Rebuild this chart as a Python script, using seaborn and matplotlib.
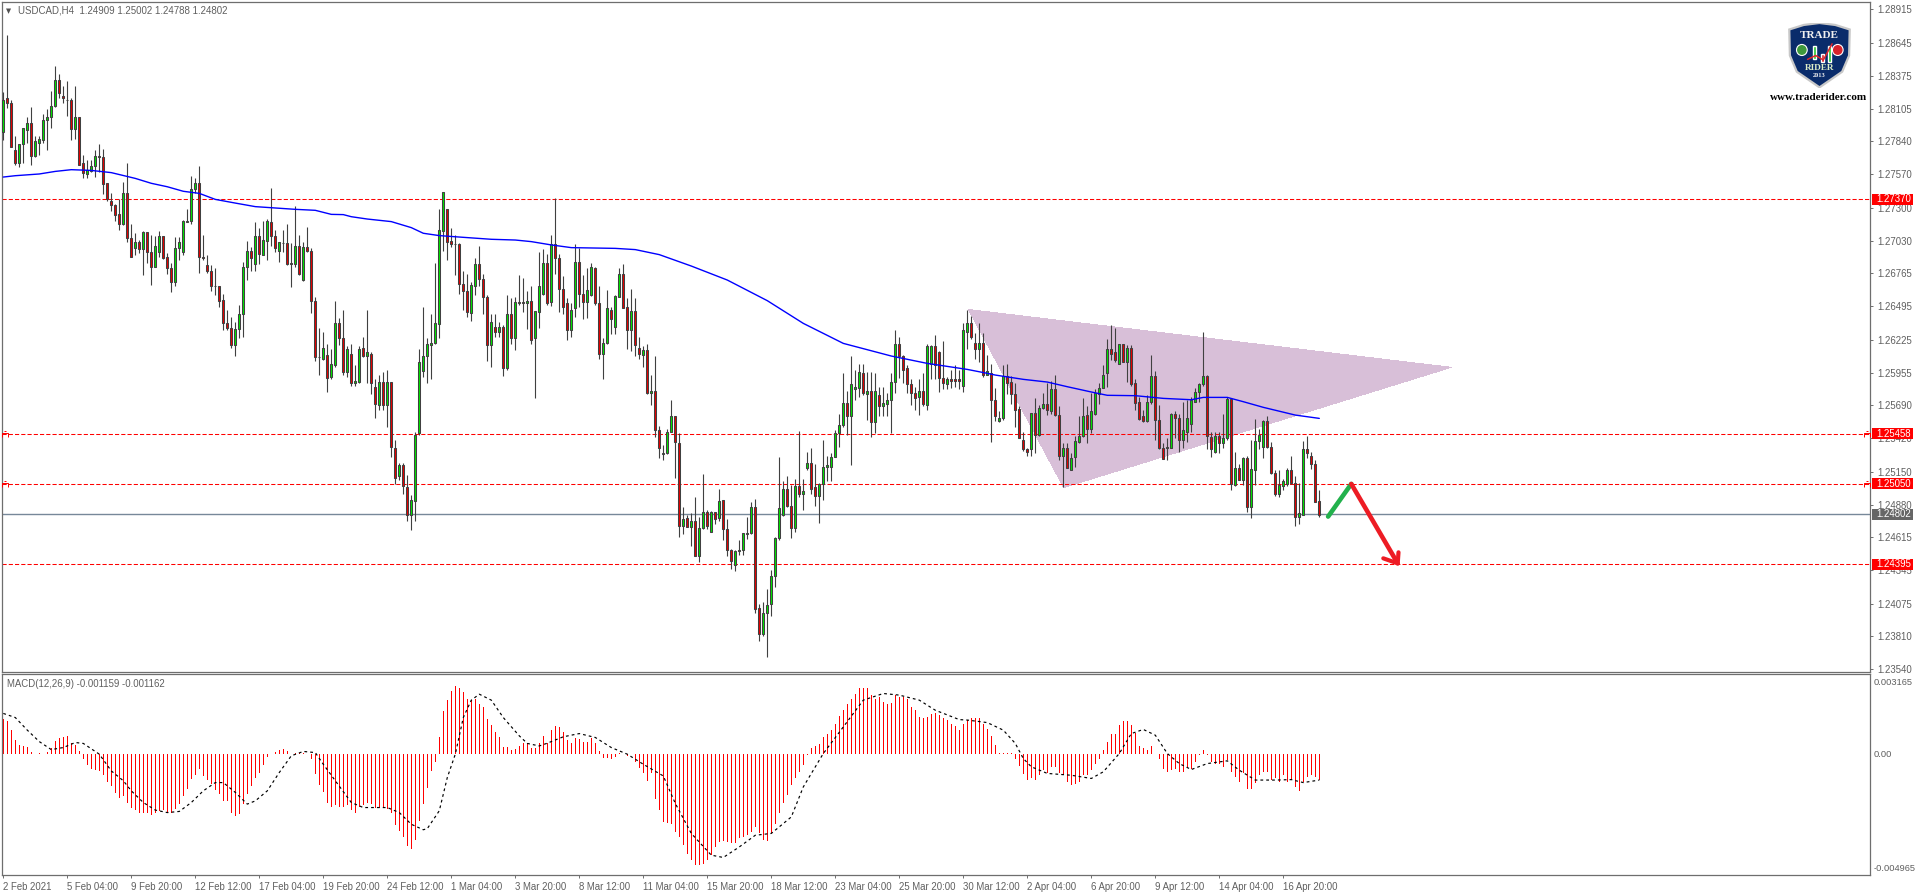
import numpy as np
import pandas as pd
import matplotlib
matplotlib.use("Agg")
import matplotlib.pyplot as plt
from matplotlib.patches import Rectangle, Polygon, Circle
from matplotlib.path import Path
import seaborn as sns

# ---- candle values, in units of 0.0001 (12818 = 1.2818) ----
candle_side = ("GRRRGGGRGG" "GGGGRRRRGR" "RGGGRRRRRR" "GRRGRGRRGG" "RRRGGGRGGR" "RRRRRRRRGG"
               "GGRGRGGRRG" "RRRGRGRRRG" "GRGGRRGRGG" "RGRRGRGRRG" "RRGGGGGGGG" "GRRRRRRGGR"
               "RRGRGRGRGR" "RGRGGGRGRR" "RRGGRRGGRR" "GGRGGRRGRR" "GRGRRGGGRR" "GRGRGGRGRG"
               "RRRGGGGGRR" "GGGGGGRRGR" "GGRRGGGGGG" "GRGGGRGRGR" "GGGGRRRRRG" "RGGRRRGRRR"
               "GGRRGRGRRG" "GRRRRRRGRG" "GRGRRGRGGG" "GRGGGGGRRG" "RGRRRRGGRR" "RGGRRGGGGG"
               "GRRGRGGRGR" "GRGGGGRRRG" "GGRRGGRRRR")

highs = [12824,12871,12818,12788,12782,12795,12804,12812,12788,12788,
 12806,12810,12825,12845,12839,12829,12833,12819,12829,12804,
 12773,12769,12769,12777,12782,12778,12750,12742,12733,12737,
 12751,12766,12717,12709,12704,12711,12710,12708,12707,12711,
 12707,12693,12685,12706,12706,12720,12729,12756,12754,12764,
 12708,12691,12683,12681,12666,12660,12647,12641,12637,12651,
 12686,12703,12698,12718,12713,12719,12721,12746,12712,12702,
 12712,12717,12701,12731,12708,12702,12714,12697,12657,12632,
 12629,12619,12615,12654,12640,12647,12617,12619,12602,12617,
 12625,12647,12612,12590,12594,12596,12598,12588,12541,12522,
 12522,12512,12496,12547,12615,12649,12624,12643,12685,12729,
 12743,12729,12713,12708,12701,12678,12676,12669,12689,12699,
 12676,12659,12643,12643,12637,12634,12659,12656,12657,12675,
 12673,12662,12666,12646,12694,12696,12692,12708,12738,12692,
 12674,12656,12652,12700,12697,12675,12681,12685,12682,12666,
 12624,12663,12649,12659,12681,12684,12656,12664,12656,12625,
 12617,12619,12594,12609,12552,12537,12550,12573,12560,12546,
 12486,12480,12481,12494,12478,12513,12484,12483,12482,12501,
 12492,12476,12452,12451,12459,12465,12478,12490,12493,12407,
 12409,12419,12435,12462,12527,12507,12511,12504,12509,12548,
 12509,12531,12534,12521,12506,12541,12528,12530,12549,12562,
 12595,12581,12609,12598,12603,12603,12596,12596,12595,12584,
 12584,12579,12595,12630,12625,12610,12602,12590,12584,12590,
 12595,12619,12618,12626,12613,12621,12592,12598,12602,12598,
 12636,12647,12642,12628,12636,12628,12610,12603,12583,12564,
 12602,12603,12593,12587,12568,12547,12534,12563,12575,12569,
 12579,12587,12589,12594,12568,12538,12538,12530,12544,12560,
 12575,12568,12579,12582,12587,12602,12623,12634,12632,12619,
 12619,12618,12618,12590,12576,12565,12577,12610,12597,12569,
 12538,12542,12563,12564,12562,12572,12573,12576,12583,12587,
 12629,12594,12547,12547,12547,12562,12576,12575,12531,12521,
 12527,12528,12541,12558,12550,12557,12560,12539,12516,12516,
 12509,12518,12528,12511,12506,12540,12544,12531,12524,12500]

body_tops = [12818,12819,12815,12777,12782,12795,12799,12799,12784,12786,
 12801,12804,12813,12834,12834,12821,12818,12818,12804,12804,
 12766,12761,12764,12772,12772,12771,12750,12735,12732,12725,
 12742,12742,12705,12702,12702,12710,12710,12694,12699,12707,
 12707,12690,12681,12697,12702,12719,12719,12745,12750,12750,
 12690,12683,12678,12666,12666,12655,12636,12632,12631,12643,
 12682,12695,12695,12707,12707,12704,12719,12718,12707,12702,
 12701,12701,12685,12699,12699,12698,12698,12695,12654,12608,
 12616,12610,12603,12636,12636,12624,12615,12611,12589,12615,
 12616,12612,12611,12584,12588,12588,12588,12588,12534,12520,
 12520,12502,12492,12545,12604,12609,12619,12620,12636,12712,
 12743,12729,12703,12700,12700,12668,12662,12667,12684,12684,
 12672,12657,12637,12633,12633,12633,12643,12643,12653,12653,
 12653,12654,12654,12646,12666,12685,12685,12700,12700,12689,
 12664,12652,12647,12686,12686,12660,12663,12682,12681,12652,
 12620,12648,12647,12658,12676,12676,12649,12646,12646,12616,
 12614,12614,12581,12581,12549,12530,12547,12560,12560,12538,
 12476,12477,12475,12475,12469,12482,12482,12482,12482,12491,
 12492,12468,12451,12450,12451,12465,12465,12486,12486,12404,
 12400,12406,12430,12461,12485,12501,12501,12487,12503,12503,
 12499,12522,12522,12502,12505,12519,12520,12527,12546,12553,
 12571,12571,12586,12584,12596,12595,12581,12581,12581,12577,
 12571,12573,12588,12619,12619,12609,12599,12586,12579,12581,
 12581,12617,12617,12617,12612,12591,12590,12590,12590,12590,
 12630,12636,12636,12620,12620,12620,12597,12595,12573,12559,
 12593,12593,12588,12578,12566,12541,12533,12563,12563,12567,
 12570,12570,12582,12582,12561,12534,12534,12526,12540,12544,
 12560,12561,12564,12579,12583,12594,12615,12615,12612,12619,
 12619,12616,12616,12587,12572,12560,12572,12593,12593,12557,
 12534,12535,12562,12562,12559,12549,12559,12573,12580,12586,
 12593,12593,12543,12544,12544,12542,12574,12574,12518,12518,
 12526,12526,12517,12540,12545,12556,12556,12535,12514,12504,
 12507,12516,12516,12506,12481,12533,12533,12528,12521,12491]

body_bottoms = [12792,12815,12779,12766,12766,12782,12793,12772,12772,12783,
 12785,12801,12804,12813,12823,12819,12818,12794,12794,12765,
 12758,12757,12760,12764,12771,12749,12737,12732,12724,12717,
 12717,12705,12690,12697,12696,12696,12694,12682,12682,12694,
 12689,12681,12669,12669,12697,12694,12718,12719,12745,12690,
 12689,12678,12666,12666,12654,12636,12632,12618,12618,12631,
 12643,12682,12689,12684,12692,12691,12703,12707,12697,12695,
 12701,12684,12684,12684,12676,12671,12695,12654,12608,12608,
 12607,12591,12592,12602,12624,12596,12596,12587,12587,12588,
 12609,12609,12587,12570,12569,12569,12569,12535,12510,12511,
 12503,12480,12480,12491,12546,12597,12609,12618,12620,12635,
 12711,12702,12700,12700,12668,12662,12645,12644,12666,12672,
 12657,12618,12618,12629,12629,12599,12599,12624,12624,12652,
 12652,12652,12622,12624,12645,12660,12652,12653,12689,12664,
 12649,12630,12630,12648,12660,12653,12653,12659,12652,12611,
 12611,12620,12639,12633,12657,12648,12630,12630,12618,12611,
 12610,12579,12579,12549,12534,12529,12530,12547,12539,12471,
 12471,12470,12470,12446,12446,12469,12471,12466,12476,12477,
 12468,12451,12442,12439,12450,12451,12464,12465,12403,12383,
 12383,12400,12407,12430,12461,12480,12487,12469,12469,12497,
 12497,12518,12501,12495,12495,12505,12519,12519,12527,12546,
 12553,12560,12560,12582,12583,12579,12578,12555,12555,12568,
 12568,12570,12573,12588,12609,12598,12586,12579,12575,12576,
 12570,12569,12603,12602,12591,12587,12586,12589,12589,12589,
 12585,12629,12625,12615,12615,12594,12594,12573,12560,12556,
 12559,12587,12578,12565,12542,12533,12531,12533,12545,12545,
 12567,12565,12564,12561,12528,12528,12518,12516,12527,12539,
 12544,12550,12550,12562,12578,12583,12595,12611,12606,12603,
 12604,12604,12586,12571,12558,12556,12556,12572,12557,12534,
 12525,12534,12534,12559,12541,12541,12547,12554,12572,12580,
 12586,12544,12533,12531,12538,12538,12542,12505,12504,12508,
 12508,12486,12486,12516,12540,12535,12535,12514,12497,12497,
 12503,12505,12506,12478,12478,12480,12530,12521,12490,12480]

lows = [12785,12811,12779,12765,12763,12766,12783,12765,12771,12773,
 12783,12777,12795,12812,12819,12815,12805,12785,12786,12765,
 12754,12754,12759,12755,12759,12741,12735,12727,12719,12712,
 12716,12702,12690,12691,12693,12675,12685,12667,12682,12690,
 12688,12676,12661,12666,12687,12691,12718,12717,12742,12677,
 12687,12677,12662,12659,12649,12630,12630,12616,12609,12624,
 12625,12671,12678,12678,12684,12691,12687,12699,12694,12686,
 12694,12683,12665,12682,12675,12670,12694,12644,12605,12594,
 12606,12580,12590,12600,12618,12594,12592,12585,12585,12587,
 12608,12587,12578,12559,12565,12565,12551,12527,12505,12508,
 12497,12475,12467,12475,12545,12592,12587,12590,12619,12624,
 12695,12687,12698,12675,12660,12647,12641,12638,12659,12666,
 12643,12605,12600,12625,12625,12593,12598,12619,12614,12651,
 12645,12631,12619,12575,12632,12659,12651,12650,12676,12645,
 12643,12622,12625,12641,12649,12639,12640,12658,12651,12607,
 12590,12619,12627,12627,12657,12648,12615,12613,12609,12607,
 12600,12578,12569,12543,12526,12524,12529,12547,12510,12462,
 12464,12470,12454,12446,12441,12468,12468,12466,12472,12475,
 12459,12446,12436,12434,12447,12447,12460,12464,12400,12377,
 12381,12364,12397,12421,12459,12479,12486,12461,12466,12494,
 12484,12516,12497,12487,12473,12492,12507,12507,12527,12535,
 12551,12545,12520,12573,12576,12577,12557,12543,12546,12560,
 12560,12560,12546,12579,12591,12587,12579,12569,12565,12561,
 12568,12565,12590,12590,12580,12582,12582,12583,12584,12582,
 12580,12615,12623,12607,12604,12592,12594,12539,12556,12555,
 12557,12578,12570,12551,12542,12532,12528,12528,12530,12544,
 12566,12561,12562,12560,12524,12502,12518,12516,12519,12538,
 12543,12538,12546,12561,12570,12583,12584,12606,12604,12603,
 12604,12588,12585,12565,12557,12555,12555,12570,12541,12533,
 12525,12524,12534,12542,12531,12534,12539,12547,12572,12572,
 12585,12533,12527,12530,12530,12534,12541,12500,12503,12508,
 12504,12482,12477,12504,12533,12526,12534,12513,12495,12494,
 12500,12503,12505,12471,12472,12480,12526,12517,12490,12478]

# ---- moving average, read at these bars (same unit) ----
ma_bars = [0,3,9,13,17,22,27,33,37,41,45,49,53,58,63,68,73,78,82,85,87,91,97,102,105,109,115,122,128,132,
           137,142,153,158,164,172,181,191,200,210,222,231,241,246,248,255,261,266,272,276,283,290,297,300,
           306,310,315,323,329]
ma_values = [12754.9,12756,12757.4,12759.5,12760.9,12760.3,12758.5,12753.8,12749.8,12747,12743.3,12741.6,
             12736.7,12733.7,12730.8,12729.7,12728.6,12727.8,12724.5,12724.3,12722.6,12720.7,12718.6,12713.7,
             12709.1,12707.2,12705.8,12704.2,12703.6,12702.3,12699.6,12697.4,12696.8,12695.8,12691.7,12682.4,
             12671,12654.2,12635.7,12619.4,12609.1,12603.1,12598.2,12595,12593.6,12590.1,12587.9,12584.1,
             12579.8,12577.1,12576.8,12574.6,12573.5,12575.4,12575.4,12571.9,12567.3,12561,12558.3]

# ---- MACD histogram, units of 0.00001 ----
macd_hist = [150,140,102,58,38,32,28,6,0,2,
 0,6,23,55,67,73,77,48,38,9,
 -23,-51,-68,-73,-76,-95,-124,-144,-173,-194,
 -186,-214,-240,-247,-259,-258,-261,-268,-262,-253,
 -245,-259,-262,-243,-221,-186,-154,-112,-92,-68,
 -99,-116,-134,-160,-178,-207,-207,-262,-274,-266,
 -221,-178,-141,-109,-83,-51,-17,0,7,16,
 19,9,-1,3,1,3,0,-25,-90,-138,
 -169,-214,-234,-226,-233,-233,-226,-247,-259,-233,
 -226,-218,-221,-236,-240,-240,-243,-258,-313,-338,
 -364,-403,-418,-377,-294,-221,-151,-76,-38,73,
 186,233,274,294,285,269,237,233,236,218,
 204,150,125,92,73,29,29,17,20,33,
 44,48,25,26,48,76,48,102,118,114,
 92,60,45,67,63,49,51,67,47,9,
 -20,-20,-22,-15,4,0,-10,-3,-39,-64,
 -83,-119,-87,-199,-247,-298,-303,-306,-342,-364,
 -400,-437,-466,-488,-488,-483,-466,-444,-408,-386,
 -381,-387,-390,-390,-371,-364,-357,-342,-323,-349,
 -376,-381,-349,-306,-262,-218,-182,-138,-109,-80,
 -51,-7,22,32,41,70,87,102,131,163,
 192,218,240,262,284,285,285,255,240,247,
 226,218,221,255,247,247,240,204,189,160,
 153,160,172,178,167,153,146,131,119,102,
 131,148,157,153,153,131,109,76,36,3,
 3,3,3,-22,-55,-90,-116,-109,-116,-95,
 -70,-87,-61,-58,-87,-95,-124,-138,-134,-124,
 -95,-95,-73,-44,-22,15,51,84,87,124,
 141,141,124,90,32,26,17,32,0,-26,
 -66,-80,-73,-66,-80,-80,-58,-66,-36,-7,
 15,-7,-36,-47,-44,-61,-29,-80,-102,-124,
 -87,-157,-157,-131,-95,-80,-80,-116,-109,-124,
 -95,-124,-116,-146,-163,-124,-102,-95,-102,-116]

signal_bars = [0,3,6,9,12,15,18,20,24,27,30,32,35,38,41,44,47,50,53,55,58,61,63,66,69,72,75,78,80,83,87,90,
               96,99,102,105,106,109,111,113,115,117,119,122,125,129,131,134,136,140,144,148,152,156,160,165,
               168,172,177,180,184,188,192,197,200,205,210,215,220,224,229,233,239,241,246,250,253,255,257,261,
               267,272,275,279,282,285,288,291,294,297,301,306,309,313,318,322,325,329]
signal_values = [175,157,102,52,17,26,48,44,-3,-76,-119,-163,-214,-247,-258,-253,-214,-163,-127,-127,-170,-221,
                 -207,-163,-83,-10,9,4,-47,-119,-214,-236,-236,-258,-309,-333,-328,-250,-105,-3,157,233,259,233,
                 157,77,44,33,45,73,87,70,26,-3,-47,-98,-218,-349,-444,-454,-408,-357,-349,-277,-146,0,116,233,
                 262,255,233,189,148,146,135,102,44,-22,-58,-87,-95,-109,-80,0,87,105,80,0,-44,-70,-44,-32,-73,
                 -116,-116,-114,-127,-116]

# ---- levels, drawings, labels ----
red_levels = [1.27370, 1.25458, 1.25050, 1.24395]
last_price = 1.24802
price_ticks = [1.28915,1.28645,1.28375,1.28105,1.27840,1.27570,1.27300,1.27030,1.26765,1.26495,1.26225,
               1.25955,1.25690,1.25420,1.25150,1.24880,1.24615,1.24345,1.24075,1.23810,1.23540]
macd_ticks = [0.003165, 0.0, -0.004965]
macd_tick_labels = ["0.003165", "0.00", "-0.004965"]
date_labels = ["2 Feb 2021","5 Feb 04:00","9 Feb 20:00","12 Feb 12:00","17 Feb 04:00","19 Feb 20:00","24 Feb 12:00",
               "1 Mar 04:00","3 Mar 20:00","8 Mar 12:00","11 Mar 04:00","15 Mar 20:00","18 Mar 12:00","23 Mar 04:00",
               "25 Mar 20:00","30 Mar 12:00","2 Apr 04:00","6 Apr 20:00","9 Apr 12:00","14 Apr 04:00","16 Apr 20:00"]
triangle_bars = [241.3, 265.1, 362.0]
triangle_prices = [1.2647, 1.25019, 1.25999]
up_arrow_bars = [331.2, 337.0]
up_arrow_prices = [1.24783, 1.25049]
down_arrow_bars = [337.0, 348.6]
down_arrow_prices = [1.25049, 1.24402]
head_bars = [345.0, 348.6, 348.8]
head_prices = [1.24443, 1.24402, 1.24492]

W, H = 1916, 896
sns.set_theme(style="white", rc={"lines.scale_dashes": False, "axes.linewidth": 0.9,
                                 "axes.edgecolor": "#6e6e6e"})
plt.rcParams["font.family"] = ["Liberation Sans", "DejaVu Sans"]
TXT = "#5f5f5f"
FS = 6.9

fig = plt.figure(figsize=(W / 100, H / 100), dpi=100, facecolor="white")
def add_px_axes(x0, y0, x1, y1):
    return fig.add_axes([x0 / W, 1 - y1 / H, (x1 - x0) / W, (y1 - y0) / H])
ax = add_px_axes(2, 2, 1870, 672)
mx = add_px_axes(2, 674, 1870, 875)

n = len(highs)
idx = np.arange(n)
df = pd.DataFrame({"bar": idx, "high": highs, "low": lows, "top": body_tops, "bottom": body_bottoms,
                   "side": list(candle_side)})
for c in ["high", "low", "top", "bottom"]:
    df[c] = df[c] / 1e4

ax.fill(triangle_bars, triangle_prices, color="#D8BFD8", lw=0, antialiased=False, zorder=1)
for lv in red_levels:
    ax.axhline(lv, color="#ff0000", lw=0.75, ls=(0, (3.0, 1.5)), zorder=1.5)
ax.axhline(last_price, color="#778899", lw=1.0, zorder=1.5)

ax.vlines(df["bar"], df["low"], df["high"], color="#404040", lw=0.8, zorder=3)
face = np.where(df["side"] == "G", "#00e600", "#e60000")
ax.bar(df["bar"], df["top"] - df["bottom"], bottom=df["bottom"], width=0.48, color=face,
       edgecolor="#404040", linewidth=0.75, zorder=3.2)

sns.lineplot(x=ma_bars, y=np.array(ma_values) / 1e4, ax=ax, color="#0000ff", lw=1.0, errorbar=None, zorder=4)

ax.plot(up_arrow_bars, up_arrow_prices, color="#22b14c", lw=3.3, solid_capstyle="round", zorder=5)
ax.plot(down_arrow_bars, down_arrow_prices, color="#ed1c24", lw=3.3, solid_capstyle="round", zorder=5)
ax.plot(head_bars, head_prices, color="#ed1c24", lw=3.0, solid_capstyle="round", solid_joinstyle="round", zorder=5)

flag = Path([(-1, -1), (-1, 0.4), (1, 0.4), (1, -1), (-0.4, 1), (0.4, 1)],
            [Path.MOVETO, Path.LINETO, Path.LINETO, Path.LINETO, Path.MOVETO, Path.LINETO])
for lv in red_levels[1:3]:
    for xf in (3.2 / 1868, 1864.5 / 1868):
        ax.plot([xf], [lv], transform=ax.get_yaxis_transform(), marker=flag, ms=4.5, mew=0.7,
                mec="#ff0000", mfc="none", ls="none", zorder=3, clip_on=False)

xlim = ((2 - 3.3) / 4, (1870 - 3.3) / 4)
ax.set_xlim(*xlim)
ax.set_ylim(1.23517, 1.28975)
ax.set_xticks([])
ax.yaxis.tick_right()
ax.set_yticks(price_ticks)
ax.set_yticklabels([f"{t:.5f}" for t in price_ticks], fontsize=FS, color=TXT)
ax.tick_params(axis="y", length=2, width=0.7, color="#6e6e6e", pad=3.6, left=False, right=True)
ax.set_xlabel(""); ax.set_ylabel("")

trans = ax.get_yaxis_transform()
px = 1 / 1868
py = 11 / 12279
for lv, col in [(1.27370, "#ff0000"), (1.25458, "#ff0000"), (1.25050, "#ff0000"), (1.24395, "#ff0000"),
                (last_price, "#666666")]:
    ax.add_patch(Rectangle((1 + 2 * px, lv - py / 2), 41 * px, py, transform=trans, facecolor=col,
                           edgecolor="none", clip_on=False, zorder=6))
    ax.text(1 + 6 * px, lv, f"{lv:.5f}", transform=trans, color="white", fontsize=FS, ha="left",
            va="center", clip_on=False, zorder=7)

# MACD pane
sns.barplot(x=idx, y=np.array(macd_hist) * 1e-5, ax=mx, native_scale=True, color="#ff0000", saturation=1,
            width=0.22, linewidth=0, errorbar=None, zorder=2)
for p in mx.patches:
    p.set_antialiased(False)
sns.lineplot(x=signal_bars, y=np.array(signal_values) * 1e-5, ax=mx, color="black", lw=0.85,
             ls=(0, (2.0, 2.2)), errorbar=None, zorder=3)
mx.set_xlim(*xlim)
mx.set_ylim(-121.5 / 22900, 79.5 / 22900)
mx.yaxis.tick_right()
mx.set_yticks(macd_ticks)
mx.set_yticklabels(macd_tick_labels, fontsize=FS - 0.2, color=TXT)
mx.tick_params(axis="y", length=0, pad=2.6, left=False, right=True)
mx.set_xticks(np.arange(len(date_labels)) * 16)
mx.set_xticklabels(date_labels, fontsize=FS, color=TXT, ha="left")
mx.tick_params(axis="x", length=2.5, width=0.7, color="#6e6e6e", pad=2.2, bottom=True)
mx.set_xlabel(""); mx.set_ylabel("")

for a in (ax, mx):
    for s in a.spines.values():
        s.set_visible(True)
        s.set_color("#6e6e6e")
        s.set_linewidth(0.9)
    a.grid(False)

# header texts
def ftext(x, y, s, **kw):
    fig.text(x / W, 1 - y / H, s, **kw)
ftext(9, 10.8, "\u25bc", fontsize=4.8, color="#505050", ha="center", va="center", family="DejaVu Sans")
ftext(18, 10.8, "USDCAD,H4  1.24909 1.25002 1.24788 1.24802", fontsize=FS + 0.1, color=TXT, ha="left", va="center")
ftext(7, 684, "MACD(12,26,9) -0.001159 -0.001162", fontsize=FS, color=TXT, ha="left", va="center")

# logo
lg = add_px_axes(1788, 23, 1851, 88)
lg.set_xlim(0, 1); lg.set_ylim(0, 1); lg.axis("off")
shield = [(0.02, .9), (.25, .97), (.5, 1), (.75, .97), (.98, .9), (.97, .5), (.86, .25), (.5, 0.01), (.14, .25), (.03, .5)]
lg.add_patch(Polygon(shield, closed=True, fc="#0a2c6b", ec="#c8c8c8", lw=1.6))
lg.text(.5, .8, "TRADE", color="#f0f0f0", fontsize=8, family="Liberation Serif", weight="bold", ha="center", va="center")
lg.text(.5, .3, "RIDER", color="#dff0c8", fontsize=6.6, family="Liberation Serif", weight="bold", ha="center", va="center")
lg.text(.5, .185, "2013", color="#f0f0f0", fontsize=4.6, family="Liberation Serif", weight="bold", ha="center", va="center")
lg.add_patch(Circle((.22, .585), .085, fc="#3f9a3c", ec="white", lw=0.8))
lg.add_patch(Circle((.79, .585), .085, fc="#d8232a", ec="white", lw=0.8))
lg.bar([.42, .55, .66], [.2, .12, .24], bottom=[.44, .4, .4], width=.05, color=["#22c52a", "#d8232a", "#22c52a"])
lg.plot([.31, .44, .56, .70], [.44, .5, .43, .68], color="#e0262c", lw=1.1)
ftext(1819, 97, "www.traderider.com", fontsize=8.0, color="black", family="Liberation Serif", weight="bold",
      ha="center", va="center")

fig.savefig("out.png", dpi=100, facecolor="white")
